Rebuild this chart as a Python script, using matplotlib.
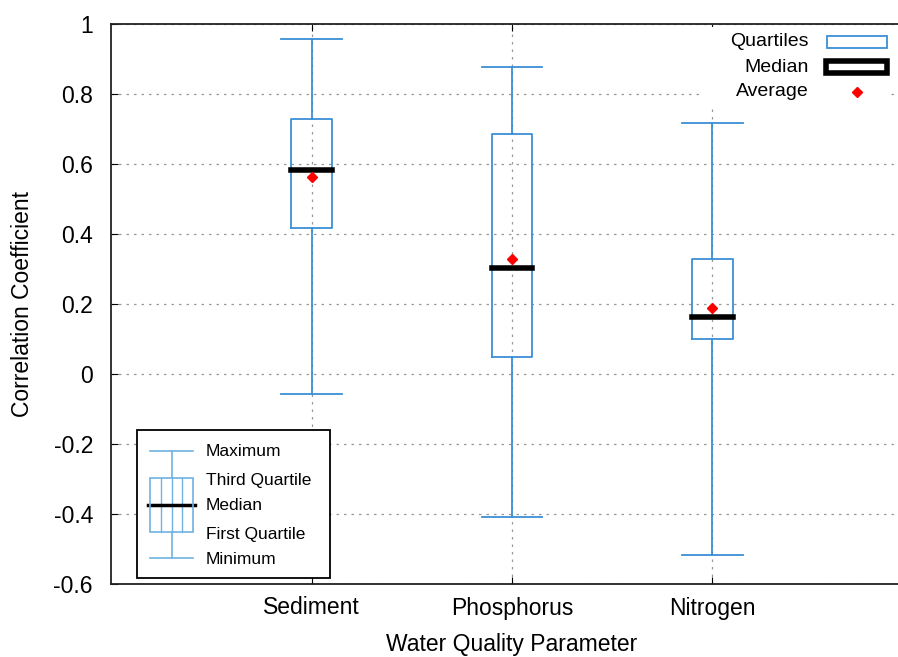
import matplotlib
matplotlib.use("Agg")
import matplotlib.pyplot as plt
from matplotlib.patches import Rectangle
from matplotlib.lines import Line2D

plt.rcParams['font.family'] = ['Liberation Sans', 'DejaVu Sans']

# data
categories = ['Sediment', 'Phosphorus', 'Nitrogen']
maxima = [0.957, 0.877, 0.716]
q3 = [0.729, 0.686, 0.328]
medians = [0.582, 0.302, 0.162]
means = [0.562, 0.328, 0.188]
q1 = [0.418, 0.050, 0.099]
minima = [-0.058, -0.408, -0.516]
yticks = [1, 0.8, 0.6, 0.4, 0.2, 0, -0.2, -0.4, -0.6]
ytick_labels = ['1', '0.8', '0.6', '0.4', '0.2', '0', '-0.2', '-0.4', '-0.6']

blue = '#3a8fd6'
light_blue = '#6fb2e2'

W, H = 898, 657
fig = plt.figure(figsize=(W / 100, H / 100), dpi=100)
# frame runs past the right edge of the picture, as in the original
ax = fig.add_axes([111 / W, 1 - 584 / H, 802 / W, 560 / H])

stats = []
for i, name in enumerate(categories):
    stats.append(dict(label=name, whislo=minima[i], q1=q1[i], med=medians[i],
                      q3=q3[i], whishi=maxima[i], mean=means[i], fliers=[]))

positions = [1, 2, 3]
ax.bxp(stats, positions=positions, widths=0.2, capwidths=0.3, showmeans=True,
       boxprops=dict(color=blue, lw=1.3),
       whiskerprops=dict(color=blue, lw=1.3),
       capprops=dict(color=blue, lw=1.3),
       medianprops=dict(color='black', lw=4, solid_capstyle='projecting'),
       meanprops=dict(marker='D', markerfacecolor='red', markeredgecolor='red',
                      markersize=5),
       zorder=3)

ax.set_xlim(0, 4)
ax.set_ylim(-0.6, 1)
ax.set_xticks(positions)
ax.set_xticklabels(categories)
ax.set_yticks(yticks)
ax.set_yticklabels(ytick_labels)
ax.grid(True, color='#999999', linestyle=(0, (2, 4)), lw=0.9)
ax.set_axisbelow(True)
ax.tick_params(direction='in', top=True, right=True, labelsize=16.5, length=5,
               colors='black')
ax.tick_params(axis='y', pad=13)
ax.tick_params(axis='x', pad=9)
for s in ax.spines.values():
    s.set_linewidth(1.3)
    s.set_color('#222222')
ax.set_xlabel('Water Quality Parameter', fontsize=16.5)
ax.set_ylabel('Correlation Coefficient', fontsize=16.5)
ax.xaxis.set_label_coords(0.5, -(645 - 584) / 560, transform=ax.transAxes)
ax.yaxis.set_label_coords(-(111 - 22) / 802, 0.5, transform=ax.transAxes)
ax.xaxis.label.set_va('center')
ax.yaxis.label.set_va('center')

# top-right key, drawn in figure pixels
def px(x, y):
    return x / W, 1 - y / H

ft = fig.transFigure
fig.patches.append(Rectangle(px(700, 105), 190 / W, 78 / H, transform=ft,
                             facecolor='white', edgecolor='none', zorder=2))
for txt, y in [('Quartiles', 41), ('Median', 67), ('Average', 92)]:
    fig.text(*px(809, y), txt, ha='right', va='center', fontsize=14, zorder=4)
fig.patches.append(Rectangle(px(827, 48), 60 / W, 12 / H, transform=ft,
                             facecolor='white', edgecolor=blue, lw=1.3, zorder=4))
fig.patches.append(Rectangle(px(826, 73), 61 / W, 12 / H, transform=ft,
                             facecolor='white', edgecolor='black', lw=4, zorder=4))
fig.lines.append(Line2D([857 / W], [1 - 92 / H], transform=ft, marker='D',
                        color='red', markersize=5, zorder=4))

# lower-left explanatory key
fig.patches.append(Rectangle(px(137, 578), 193 / W, 148 / H, transform=ft,
                             facecolor='white', edgecolor='black', lw=1.3, zorder=5))

def seg(x0, y0, x1, y1, color, lw):
    fig.lines.append(Line2D([x0 / W, x1 / W], [1 - y0 / H, 1 - y1 / H],
                            transform=ft, color=color, lw=lw, zorder=6))

seg(150, 451, 193, 451, light_blue, 1.2)
seg(172, 451, 172, 478, light_blue, 1.2)
seg(150, 558, 193, 558, light_blue, 1.2)
seg(172, 532, 172, 558, light_blue, 1.2)
fig.patches.append(Rectangle(px(150, 532), 43 / W, 54 / H, transform=ft,
                             facecolor='none', edgecolor=light_blue, lw=1.2, zorder=6))
for xv in (161, 172, 182):
    seg(xv, 478, xv, 532, light_blue, 1.0)
seg(148, 505, 195, 505, 'black', 2.5)
for txt, y in [('Maximum', 451), ('Third Quartile', 480), ('Median', 506),
               ('First Quartile', 534), ('Minimum', 559)]:
    fig.text(*px(206, y), txt, ha='left', va='center', fontsize=12.5, zorder=7)

fig.savefig('out.png', dpi=100)
